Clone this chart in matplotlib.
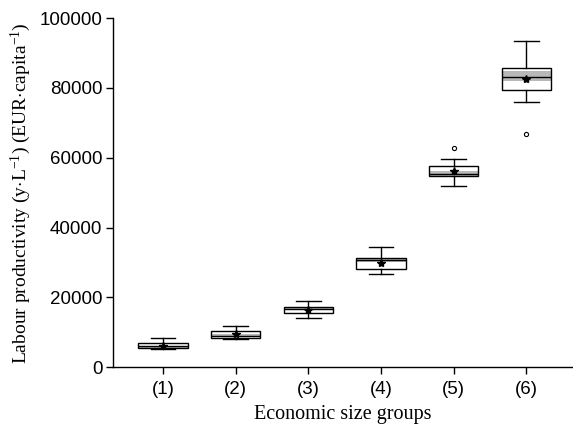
import matplotlib
matplotlib.use("Agg")
import matplotlib.pyplot as plt

plt.rcParams['mathtext.fontset'] = 'custom'
plt.rcParams['mathtext.rm'] = 'Liberation Serif'
plt.rcParams['mathtext.it'] = 'Liberation Serif:italic'

groups = ['(1)', '(2)', '(3)', '(4)', '(5)', '(6)']
whislo = [5100, 8000, 14000, 26800, 52000, 75900]
q1 = [5500, 8500, 15400, 28200, 54900, 79500]
med = [6000, 8900, 16600, 30600, 55400, 83200]
q3 = [7000, 10500, 17300, 31300, 57600, 85800]
whishi = [8300, 11700, 18900, 34500, 59500, 93400]
means = [6100, 9400, 16300, 29900, 56300, 82500]
ci_lo = [5300, 8600, 16300, 30200, 54800, 82100]
ci_hi = [6200, 9600, 17000, 31100, 56300, 84800]
fliers = [[], [], [], [], [62900], [66900]]

fig = plt.figure(figsize=(5.73, 4.30), dpi=100)
ax = fig.add_axes([0.198, 0.146, 0.802, 0.812])

positions = list(range(1, len(groups) + 1))
width = 0.68

ax.bar(positions, [h - l for l, h in zip(ci_lo, ci_hi)], bottom=ci_lo,
       width=width, color='#b8b8b8', edgecolor='none', zorder=1)

stats = []
for i in range(len(groups)):
    stats.append(dict(med=med[i], q1=q1[i], q3=q3[i], whislo=whislo[i],
                      whishi=whishi[i], mean=means[i], fliers=fliers[i]))

ax.bxp(stats, positions=positions, widths=width, showmeans=True,
       patch_artist=True, capwidths=0.34,
       boxprops=dict(facecolor='none', edgecolor='black', linewidth=1.0),
       medianprops=dict(color='black', linewidth=1.0),
       whiskerprops=dict(color='black', linewidth=1.0),
       capprops=dict(color='black', linewidth=1.0),
       meanprops=dict(marker='*', markerfacecolor='black',
                      markeredgecolor='black', markersize=6),
       flierprops=dict(marker='o', markerfacecolor='white',
                       markeredgecolor='black', markersize=3,
                       markeredgewidth=0.8),
       zorder=2)

ax.set_xlim(0.32, 6.64)
ax.set_ylim(0, 100000)
ax.set_yticks([0, 20000, 40000, 60000, 80000, 100000])
ax.set_yticklabels(['0', '20000', '40000', '60000', '80000', '100000'])
ax.set_xticks(positions)
ax.set_xticklabels(groups)

for s in ['top', 'right']:
    ax.spines[s].set_visible(False)
for s in ['left', 'bottom']:
    ax.spines[s].set_linewidth(1.0)

ax.tick_params(direction='out', length=5, width=1.0, labelsize=13.5)
ax.tick_params(axis='x', pad=5)
ax.tick_params(axis='y', pad=3)
for lab in ax.get_xticklabels() + ax.get_yticklabels():
    lab.set_family('Liberation Sans')

ax.set_xlabel('Economic size groups', family='Liberation Serif', fontsize=14.5,
              labelpad=5)
ax.set_ylabel(r'Labour productivity (y$\cdot$L$^{\mathrm{-1}}$) (EUR$\cdot$capita$^{\mathrm{-1}}$)',
              family='Liberation Serif', fontsize=14, labelpad=5)

fig.savefig('out.png', dpi=100)
